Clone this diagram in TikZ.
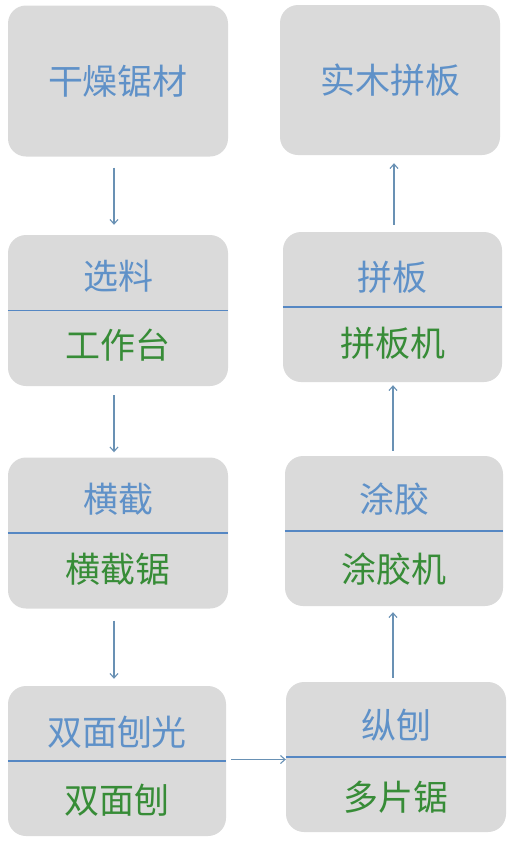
\documentclass[tikz,border=0pt]{standalone}
\usepackage{fontspec}
\newfontfamily\cjk{Noto Sans CJK SC}
\usetikzlibrary{arrows.meta}
\definecolor{boxgray}{RGB}{218,218,218}
\definecolor{topblue}{RGB}{95,145,200}
\definecolor{botgreen}{RGB}{55,140,55}
\definecolor{divblue}{RGB}{85,135,195}
\definecolor{arrowc}{RGB}{105,145,180}
\tikzset{
  box/.style={fill=boxgray, draw=none, rounded corners=18pt, minimum width=220pt, minimum height=151pt, inner sep=0pt},
  toptext/.style={font=\cjk\fontsize{35}{35}\selectfont, text=topblue, inner sep=0pt},
  bottext/.style={font=\cjk\fontsize{35}{35}\selectfont, text=botgreen, inner sep=0pt},
  divider/.style={draw=divblue, line width=1.6pt},
  conn/.style={draw=arrowc, line width=1.1pt, -{Straight Barb[length=4.5pt,width=8pt]}}
}
\begin{document}
\begin{tikzpicture}[x=1pt,y=-1pt]
\useasboundingbox (0,0) rectangle (512,844);
% left column
\node[box] (L1) at (118,81) {};
\node[box] (L2) at (118,310.5) {};
\node[box] (L3) at (118,533) {};
\node[box, minimum width=218pt, minimum height=150pt] (L4) at (117,761) {};
% right column
\node[box, minimum height=150pt] (R1) at (390,80) {};
\node[box, minimum width=219pt, minimum height=150pt] (R2) at (392.5,307) {};
\node[box, minimum width=218pt, minimum height=150pt] (R3) at (394,531) {};
\node[box, minimum height=150pt] (R4) at (396,757) {};
% dividers
\foreach \b in {L2,L3,L4,R2,R3,R4} \draw[divider] (\b.west) -- (\b.east);
% texts
\node[toptext] (t1) at (L1.center) {干燥锯材};
\node[toptext] (t2a) at ([yshift=34pt]L2.center) {选料};
\node[bottext] (t2b) at ([yshift=-35pt]L2.center) {工作台};
\node[toptext] (t3a) at ([yshift=34pt]L3.center) {横截};
\node[bottext] (t3b) at ([yshift=-36pt]L3.center) {横截锯};
\node[toptext] (t4a) at ([yshift=29pt]L4.center) {双面刨光};
\node[bottext] (t4b) at ([yshift=-39pt]L4.center) {双面刨};
\node[toptext] (s1) at (R1.center) {实木拼板};
\node[toptext] (s2a) at ([yshift=30pt]R2.center) {拼板};
\node[bottext] (s2b) at ([yshift=-36pt]R2.center) {拼板机};
\node[toptext] (s3a) at ([yshift=32pt]R3.center) {涂胶};
\node[bottext] (s3b) at ([yshift=-38pt]R3.center) {涂胶机};
\node[toptext] (s4a) at ([yshift=32pt]R4.center) {纵刨};
\node[bottext] (s4b) at ([yshift=-40pt]R4.center) {多片锯};
% connectors
\draw[conn, shorten <=11pt, shorten >=10pt] ([xshift=-4pt]L1.south) -- ([xshift=-4pt]L1.south |- L2.north);
\draw[conn, shorten <=9pt, shorten >=5pt] ([xshift=-4pt]L2.south) -- ([xshift=-4pt]L2.south |- L3.north);
\draw[conn, shorten <=12pt, shorten >=7pt] ([xshift=-4pt]L3.south) -- ([xshift=-4pt]L3.south |- L4.north);
\draw[conn, shorten <=5pt] ([yshift=1.5pt]L4.east) -- ([yshift=1.5pt]L4.east -| R4.west);
\draw[conn, shorten <=4pt, shorten >=6pt] ([xshift=-3pt]R4.north) -- ([xshift=-3pt]R4.north |- R3.south);
\draw[conn, shorten <=5pt, shorten >=3pt] ([xshift=-1pt]R3.north) -- ([xshift=-1pt]R3.north |- R2.south);
\draw[conn, shorten <=7pt, shorten >=8pt] ([xshift=1.5pt]R2.north) -- ([xshift=1.5pt]R2.north |- R1.south);
\end{tikzpicture}
\end{document}
